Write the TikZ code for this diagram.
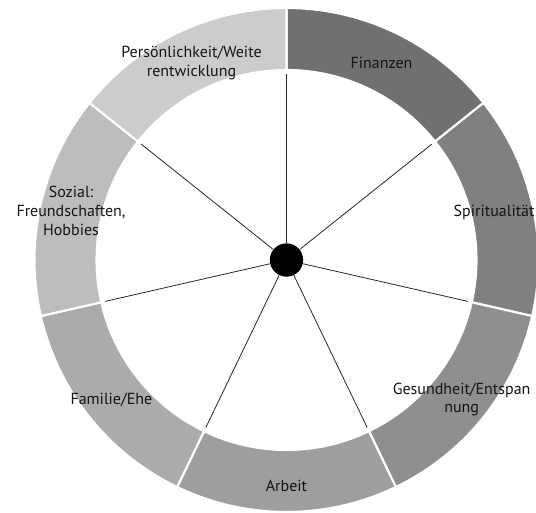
\documentclass[tikz,border=0pt]{standalone}
\usepackage{fontspec}
\setmainfont{PT Sans}
\usetikzlibrary{positioning}
\definecolor{lifeFin}{gray}{0.44}
\definecolor{lifeSpi}{gray}{0.50}
\definecolor{lifeGes}{gray}{0.56}
\definecolor{lifeArb}{gray}{0.62}
\definecolor{lifeFam}{gray}{0.67}
\definecolor{lifeSoz}{gray}{0.74}
\definecolor{lifePer}{gray}{0.80}
\tikzset{
  sector/.style={draw=white, line width=1.6pt},
  spoke/.style={draw=black!85, line width=0.6pt},
  hub/.style={circle, fill=black, minimum size=25pt, inner sep=0pt},
  seglabel/.style={align=center, font=\fontsize{12}{14}\selectfont, text=black!92}
}

\begin{document}
\begin{tikzpicture}[x=0.75pt, y=0.75pt]
\useasboundingbox (0,0) rectangle (536,513);
\clip (0,0) rectangle (536,513);
\begin{scope}[shift={(286.5,253)}]
% ring of seven fields
\foreach \k/\col in {0/lifeFin,1/lifeSpi,2/lifeGes,3/lifeArb,4/lifeFam,5/lifeSoz,6/lifePer} {
  \pgfmathsetmacro\aS{90-\k*360/7}
  \pgfmathsetmacro\aE{90-(\k+1)*360/7}
  \filldraw[sector, fill=\col] (\aS:190) arc[start angle=\aS, end angle=\aE, radius=190]
    -- (\aE:252) arc[start angle=\aE, end angle=\aS, radius=252] -- cycle;
}
\node[hub] (hub) at (0,0) {};
\foreach \k in {0,...,6} {
  \coordinate (rim\k) at ({90-\k*360/7}:186);
  \draw[spoke] (hub) -- (rim\k);
}
% labels
\foreach \k/\r/\txt in {0/219/Finanzen, 1/213/Spiritualität, 2/224/{Gesundheit/Entspan\\nung},
    3/226/Arbeit, 4/224/{Familie/Ehe}, 5/221/{Sozial:\\Freundschaften,\\Hobbies},
    6/219/{Persönlichkeit/Weite\\rentwicklung}} {
  \node[seglabel] (lbl\k) at ({90-(\k+0.5)*360/7}:\r) {\txt};
}
\end{scope}
\end{tikzpicture}
\end{document}
